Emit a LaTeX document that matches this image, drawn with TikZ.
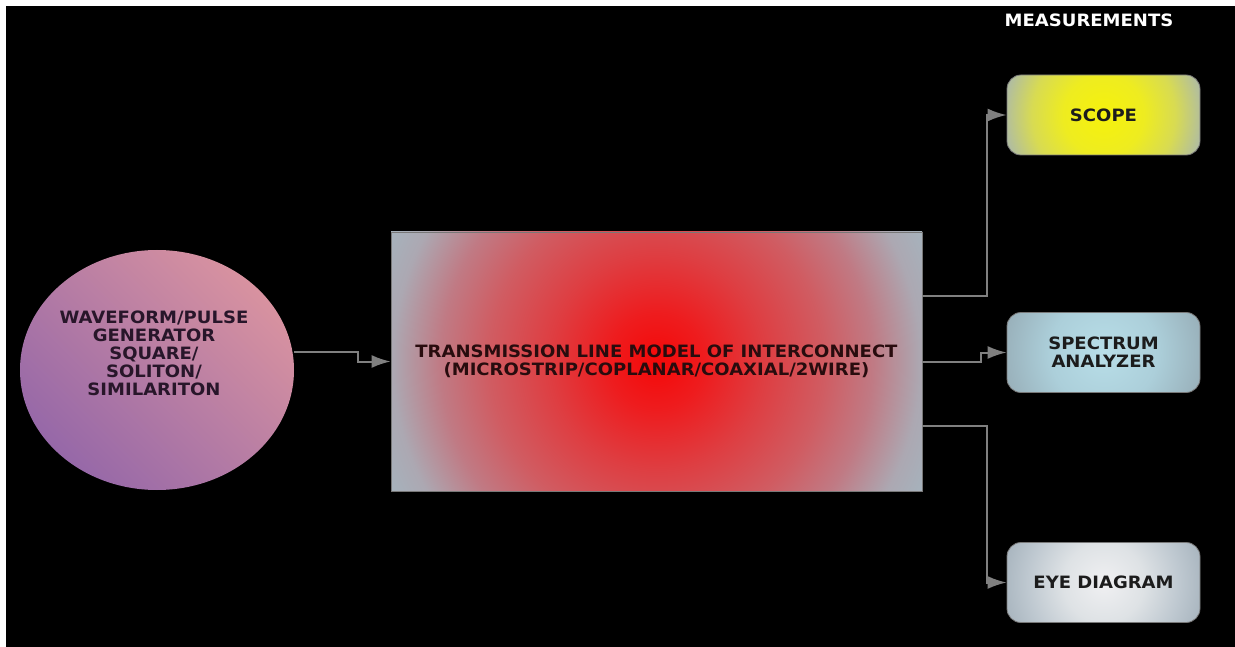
\documentclass[tikz,border=0pt]{standalone}
\usepackage{fontspec}
\newfontfamily\lblfont[FakeStretch=1.06]{DejaVu Sans Bold}
\usetikzlibrary{arrows.meta,shapes.geometric}

% palette
\definecolor{linkgray}{RGB}{128,128,128}
\definecolor{edgegray}{RGB}{120,120,120}
\definecolor{genpink}{RGB}{216,146,160}
\definecolor{genpurple}{RGB}{150,104,168}
\definecolor{gentext}{RGB}{40,22,42}
\definecolor{boxtext}{RGB}{28,28,28}
\definecolor{tltext}{RGB}{40,12,14}
% red glow of the transmission-line block
\definecolor{rgA}{RGB}{245,8,8}
\definecolor{rgB}{RGB}{238,28,30}
\definecolor{rgC}{RGB}{222,62,66}
\definecolor{rgD}{RGB}{208,92,98}
\definecolor{rgE}{RGB}{192,122,132}
\definecolor{rgF}{RGB}{172,168,178}
\definecolor{rgG}{RGB}{165,180,190}
% yellow glow (scope)
\definecolor{ygA}{RGB}{246,242,12}
\definecolor{ygB}{RGB}{238,236,32}
\definecolor{ygC}{RGB}{216,219,82}
\definecolor{ygD}{RGB}{178,190,158}
\definecolor{ygE}{RGB}{166,178,170}
% blue glow (spectrum analyzer)
\definecolor{bgA}{RGB}{184,222,232}
\definecolor{bgB}{RGB}{172,207,218}
\definecolor{bgC}{RGB}{154,178,188}
\definecolor{bgD}{RGB}{146,164,174}
% white glow (eye diagram)
\definecolor{wgA}{RGB}{240,240,242}
\definecolor{wgB}{RGB}{222,226,229}
\definecolor{wgC}{RGB}{190,200,208}
\definecolor{wgD}{RGB}{164,177,187}

% the inner 50bp square of a shading is fitted to the path, so 25bp is the rim
\pgfdeclareradialshading{redglow}{\pgfpoint{0bp}{0bp}}{color(0bp)=(rgA); color(4bp)=(rgB); color(9bp)=(rgC); color(14bp)=(rgD); color(18bp)=(rgE); color(22bp)=(rgF); color(25bp)=(rgG); color(50bp)=(rgG)}
\pgfdeclareradialshading{yellowglow}{\pgfpoint{0bp}{0bp}}{color(0bp)=(ygA); color(9bp)=(ygB); color(16bp)=(ygC); color(22bp)=(ygD); color(25bp)=(ygE); color(50bp)=(ygE)}
\pgfdeclareradialshading{blueglow}{\pgfpoint{0bp}{0bp}}{color(0bp)=(bgA); color(12bp)=(bgB); color(22bp)=(bgC); color(25bp)=(bgD); color(50bp)=(bgD)}
\pgfdeclareradialshading{whiteglow}{\pgfpoint{0bp}{0bp}}{color(0bp)=(wgA); color(9bp)=(wgB); color(17bp)=(wgC); color(24bp)=(wgD); color(50bp)=(wgD)}

\begin{document}
\begin{tikzpicture}[x=1pt,y=-1pt,
  conn/.style={draw=linkgray, line width=2pt, -{Latex[length=19pt,width=13pt]}},
  lbl/.style={font=\lblfont\fontsize{17}{18}\selectfont, align=center, inner sep=0pt},
  meterbox/.style={rounded corners=14pt, draw=edgegray, line width=0.8pt,
    minimum width=193pt, minimum height=80pt, lbl, text=boxtext,
    path picture={\shade[shading=#1] (path picture bounding box.center) circle (112pt);}}]

% canvas
\fill[white] (0,0) rectangle (1235,647);
\fill[black] (6,6) rectangle (1235,647);

% source
\node[ellipse, minimum width=274pt, minimum height=240pt, inner sep=0pt,
      top color=genpink, bottom color=genpurple, shading angle=-45] (gen) at (157,370) {};
\node[lbl, text=gentext] (gentxt) at (154,353)
  {WAVEFORM/PULSE\\GENERATOR\\SQUARE/\\SOLITON/\\SIMILARITON};

% interconnect model
\node[draw=edgegray, line width=0.8pt, minimum width=531pt, minimum height=259pt,
      lbl, text=tltext,
      path picture={\shade[shading=redglow] (path picture bounding box.center) circle (300pt);}]
  (tl) at (656.5,361.5)
  {TRANSMISSION LINE MODEL OF INTERCONNECT\\(MICROSTRIP/COPLANAR/COAXIAL/2WIRE)};

% instruments
\node[lbl, text=white] (meas) at (1089,20) {MEASUREMENTS};
\node[meterbox=yellowglow] (scope) at (1103.5,115) {SCOPE};
\node[meterbox=blueglow] (spec) at (1103.5,352.5) {SPECTRUM\\ANALYZER};
\node[meterbox=whiteglow] (eye) at (1103.5,582.5) {EYE DIAGRAM};

% connectors
\draw[conn] ([yshift=18pt]gen.east) -- ++(64,0) |- (tl.west);
\draw[conn] ([yshift=65.5pt]tl.east) -- ++(65,0) |- (scope.west);
\draw[conn] (tl.east) -- ++(59,0) |- (spec.west);
\draw[conn] ([yshift=-64.5pt]tl.east) -- ++(65,0) |- (eye.west);
\end{tikzpicture}
\end{document}
